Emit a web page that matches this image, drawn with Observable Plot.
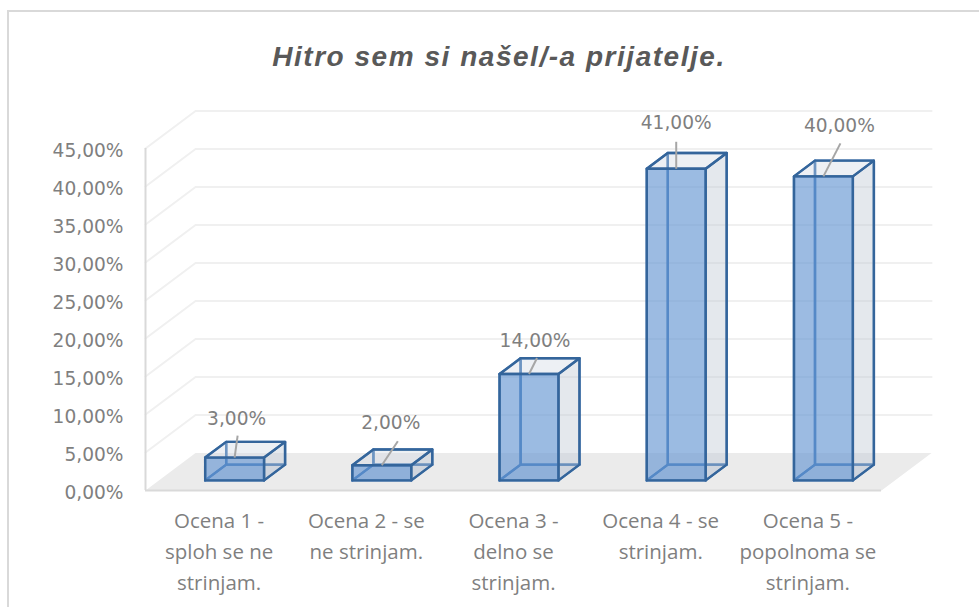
<!DOCTYPE html>
<html>
<head>
<meta charset="utf-8">
<script src="https://cdn.jsdelivr.net/npm/d3@7"></script>
<script src="https://cdn.jsdelivr.net/npm/@observablehq/plot@0.6"></script>
<style>
  html, body { margin: 0; padding: 0; background: #fff; overflow: hidden; }
  #chart { margin: 10px 0 0 7px; border-left: 2px solid #d9d9d9; border-top: 2px solid #d9d9d9; width: 970px; }
  #title { box-sizing: border-box; text-align: center; font: italic bold 28px "Liberation Sans", sans-serif; letter-spacing: 1.53px; color: #595959; margin-left: 10px; padding-top: 26px; height: 68px; line-height: 38px; }
  svg { display: block; }
</style>
</head>
<body>
<div id="chart"><div id="title">Hitro sem si našel/-a prijatelje.</div></div>
<script>
// Data
const categories = [
  "Ocena 1 -\nsploh se ne\nstrinjam.",
  "Ocena 2 - se\nne strinjam.",
  "Ocena 3 -\ndelno se\nstrinjam.",
  "Ocena 4 - se\nstrinjam.",
  "Ocena 5 -\npopolnoma se\nstrinjam."
];
const values = [3, 2, 14, 41, 40];
const yTicks = [0, 5, 10, 15, 20, 25, 30, 35, 40, 45];

// Layout: pixel offsets of the leader-line labels from each bar's top edge
const labelDx = [2, 9, 6, 0, 16];
const labelDy = [-39, -42, -33, -46, -50];
const leaderStart = [-22, -24, -16, -27, -33];
const leaderDx = [3, 16, 8, 0, 17];

// Pseudo-3D projection: depth z in [0,1] shifts x and y in scale units
const DX = 0.34, DY = 4.93;      // shift at full depth
const xPerPx = 1 / 147, yPerPx = 45 / 342;
const Z0 = 0.27, Z1 = 0.69;      // bar depth extent
const W = 0.2;                   // half bar width
const SHIFT = 2 * xPerPx;        // bars sit slightly right of the slot centre
const P = (x, y, z) => ({x: x + z * DX, y: y + z * DY});
const fmt = d => d.toFixed(2).replace(".", ",") + "%";

const fx = d => d.x, fy = d => d.y, fk = d => d.k;
const poly = (k, pts) => [...pts, pts[0]].map(p => ({...p, k}));
const faces = (i, v) => {
  const l = i - W + SHIFT, r = i + W + SHIFT;
  return {
    bottom: [P(l,0,Z0), P(r,0,Z0), P(r,0,Z1), P(l,0,Z1)],
    back:   [P(l,0,Z1), P(r,0,Z1), P(r,v,Z1), P(l,v,Z1)],
    left:   [P(l,0,Z0), P(l,0,Z1), P(l,v,Z1), P(l,v,Z0)],
    right:  [P(r,0,Z0), P(r,0,Z1), P(r,v,Z1), P(r,v,Z0)],
    top:    [P(l,v,Z0), P(r,v,Z0), P(r,v,Z1), P(l,v,Z1)],
    front:  [P(l,0,Z0), P(r,0,Z0), P(r,v,Z0), P(l,v,Z0)]
  };
};
const faceData = name => values.flatMap((v, i) => poly(i, faces(i, v)[name]));

const xMin = -0.5, xMax = 4.5, yMax = 45;
const floor = poly(0, [P(xMin,0,0), P(xMax,0,0), P(xMax,0,1), P(xMin,0,1)]);
const grid = yTicks.slice(1).flatMap(t => [P(xMin,t,0), P(xMin,t,1), P(xMax,t,1)].map(p => ({...p, k: t})));

const blue = "#34659b", inner = "#4c7fb8";
const face = (name, fill, op, stroke, sw = 2.4) => Plot.line(faceData(name), {
  x: fx, y: fy, z: fk, fill, fillOpacity: op, stroke, strokeWidth: sw, strokeLinejoin: "round"
});

const plot = Plot.plot({
  width: 970, height: 527,
  marginLeft: 136, marginRight: 98, marginTop: 68, marginBottom: 117,
  x: {type: "linear", domain: [xMin, xMax]},
  y: {type: "linear", domain: [0, yMax]},
  style: {background: "transparent", overflow: "visible"},
  marks: [
    // wall and floor gridlines
    Plot.line(grid, {x: fx, y: fy, z: fk, stroke: "#f0f0f0", strokeWidth: 2}),
    Plot.line(floor, {x: fx, y: fy, z: fk, fill: "#ebebeb", stroke: "none"}),
    Plot.ruleX([xMin], {y1: 0, y2: yMax, stroke: "#d9d9d9", strokeWidth: 2}),
    Plot.ruleY([0], {x1: xMin, x2: xMax, stroke: "#d9d9d9", strokeWidth: 2}),
    // axes
    Plot.axisY({anchor: "left", ticks: yTicks, tickFormat: fmt, tickSize: 0, tickPadding: 22, dy: 2.5,
      fontSize: 18.6, fill: "#7f7f7f", fontFamily: "DejaVu Sans", label: null}),
    Plot.axisX({anchor: "bottom", ticks: categories.map((c, i) => i), tickFormat: i => categories[i],
      tickSize: 0, tickPadding: 16, fontSize: 20.5, lineHeight: 1.51, fill: "#7f7f7f", fontFamily: "Open Sans", label: null}),
    // bars, back to front
    face("bottom", "#c9d3e0", 0.4, inner),
    face("back", "#e6e9f0", 0.15, inner),
    face("left", "#e6e9f0", 0.1, inner),
    face("right", "#aeb9c9", 0.3, blue),
    face("top", "#c8cfe0", 0.28, blue),
    face("front", "#5b8fd0", 0.6, blue),
    // leader lines and labels
    Plot.link(values.map((v, i) => ({i, v})), {
      x1: d => d.i + SHIFT + Z0 * DX,
      y1: d => d.v + Z0 * DY,
      x2: d => d.i + SHIFT + Z0 * DX + leaderDx[d.i] * xPerPx,
      y2: d => d.v + Z0 * DY - leaderStart[d.i] * yPerPx,
      stroke: "#a6a6a6", strokeWidth: 2
    }),
    ...values.map((v, i) => Plot.text([v], {
      x: () => i + SHIFT + Z0 * DX, y: d => d + Z0 * DY, text: fmt,
      dx: labelDx[i], dy: labelDy[i], fontSize: 18.6, fill: "#7f7f7f", fontFamily: "DejaVu Sans"
    }))
  ]
});
document.getElementById("chart").appendChild(plot);
</script>
</body>
</html>
